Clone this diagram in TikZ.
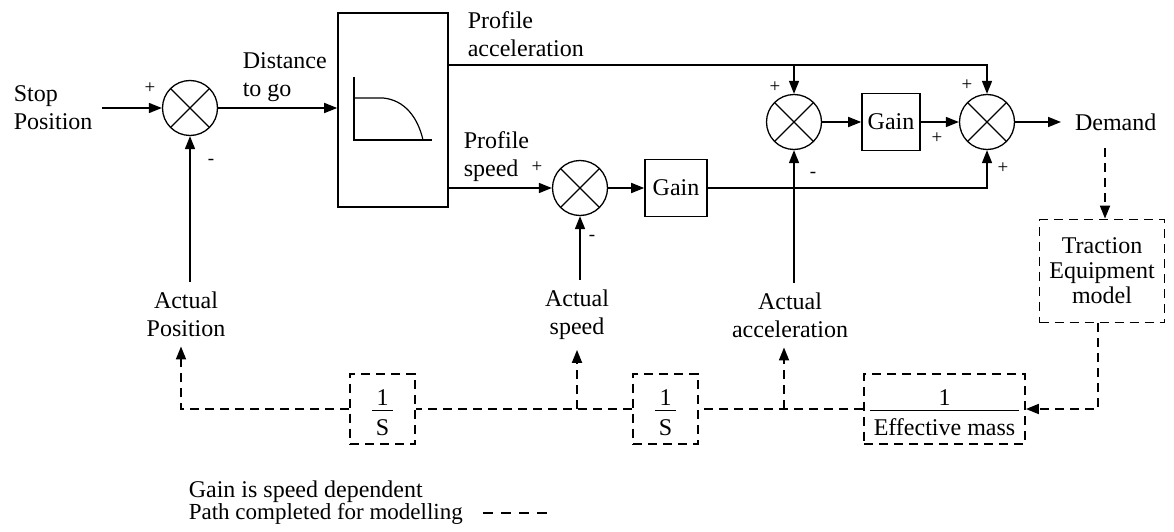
\documentclass[tikz,border=0pt]{standalone}
\usepackage{fontspec}
\setmainfont{Liberation Serif}
\usetikzlibrary{arrows.meta}
\newcommand\labfont{\fontsize{24}{28}\selectfont}
\newcommand\notefont{\fontsize{24}{22}\selectfont}
\newcommand\notefontb{\fontsize{23}{22}\selectfont}
\newcommand\signfont{\fontsize{19}{19}\selectfont}
\newcommand\fracbox[2]{\begin{tabular}{@{\,}c@{\,}}\rule{0pt}{32pt}#1\\[-4pt]\hline\rule{0pt}{25pt}#2\end{tabular}}
\begin{document}
\begin{tikzpicture}[x=1pt,y=-1pt,line width=1.6pt,
  >={Triangle[length=13pt,width=10pt]},
  sumnode/.style={circle,draw,line width=1.3pt,minimum size=55pt,inner sep=0pt,
    path picture={\draw[line width=1.3pt] (path picture bounding box.north east) -- (path picture bounding box.south west)
                   (path picture bounding box.north west) -- (path picture bounding box.south east);}},
  blk/.style={draw,rectangle,inner sep=0pt,line width=1.6pt},
  dline/.style={line width=1.8pt,dash pattern=on 9pt off 6pt},
  dblk/.style={blk,line width=1.8pt,dash pattern=on 9pt off 6pt},
  lab/.style={font=\labfont,inner sep=0pt,align=center},
  albl/.style={lab,outer sep=10pt},
  sgn/.style={font=\signfont,inner sep=0pt}]
\useasboundingbox (0,0) rectangle (1174,532);

% main forward path
\node[sumnode] (s1) at (190,108) {};
\node[blk,minimum width=110pt,minimum height=194pt] (pb) at (393,110) {};
\node[sumnode] (s2) at (580,188) {};
\node[blk,minimum width=62pt,minimum height=57pt,font=\labfont] (g1) at (676,188) {Gain};
\node[sumnode] (s3) at (794,122) {};
\node[blk,minimum width=58pt,minimum height=57pt,font=\labfont] (g2) at (891,122) {Gain};
\node[sumnode] (s4) at (987,122) {};

% profile graph inside block
\draw[line width=1.2pt] (354,77) -- (354,140) -- (432,140);
\draw[line width=1.2pt] (354,98) -- (383,98) .. controls (405,100) and (418,118) .. (423,140);

% labels
\node[lab,align=left,anchor=west] (stp) at (13,108) {Stop\\Position};
\node[lab,align=left,anchor=west] (dtg) at (242,77) {Distance\\to go};
\node[lab,align=left,anchor=west] (pacc) at (467,34) {Profile\\acceleration};
\node[lab,align=left,anchor=west] (pspd) at (463,157) {Profile\\speed};
\node[lab,anchor=west,outer sep=14pt] (dm) at (1061,122) {Demand};
\node[albl] (ap) at (186,314) {Actual\\Position};
\node[albl] (as) at (577,315) {Actual\\speed};
\node[albl] (aa) at (790,315) {Actual\\acceleration};

% signs
\node[sgn] (p1) at (150,88) {+};
\node[sgn] (m1) at (211,162) {-};
\node[sgn] (p2) at (537,167) {+};
\node[sgn] (m2) at (592,238) {-};
\node[sgn] (p3) at (775,87) {+};
\node[sgn] (m3) at (813,175) {-};
\node[sgn] (p4a) at (967,85) {+};
\node[sgn] (p4b) at (937,138) {+};
\node[sgn] (p4c) at (1003,168) {+};

% solid connectors
\coordinate (accy) at (0,65);
\draw[->,shorten <=9pt] (stp.east |- s1.west) -- (s1.west);
\draw[->] (s1.east) -- (pb.west |- s1.east);
\draw[->] (pb.east |- accy) -| (s4.north);
\draw[->] (s3.north |- accy) -- (s3.north);
\draw[->] (pb.east |- s2.west) -- (s2.west);
\draw[->] (s2.east) -- (g1.west);
\draw[->] (g1.east) -| (s4.south);
\draw[->] (s3.east) -- (g2.west);
\draw[->] (g2.east) -- (s4.west);
\draw[->] (s4.east) -- (dm.west);
\draw[->] (s1.south |- ap.north) -- (s1.south);
\draw[->] (s2.south |- as.north) -- (s2.south);
\draw[->] (s3.south |- aa.north) -- (s3.south);

% modelling path (dashed)
\node[dblk,minimum width=125pt,minimum height=103pt,font=\fontsize{24}{25}\selectfont,align=center] (tb) at (1102,271) {Traction\\Equipment\\model};
\node[dblk,minimum width=161pt,minimum height=62pt,font=\labfont] (em) at (944.5,409)
  {\fracbox{1}{Effective mass}};
\node[dblk,minimum width=65pt,minimum height=62pt,font=\labfont] (i2) at (665.5,409)
  {\fracbox{1}{S}};
\node[dblk,minimum width=65pt,minimum height=62pt,font=\labfont] (i1) at (382.5,409)
  {\fracbox{1}{S}};
\coordinate (dmd) at (1105,148);
\draw[dline,->] (dmd) -- (dmd |- tb.north);
\draw[dline,->] ([xshift=-4pt]tb.south) |- (em.east);
\draw[dline] (em.west) -- (i2.east);
\draw[dline] (i2.west) -- (i1.east);
\draw[dline,->] (i1.west) -| ([xshift=-5pt]ap.south);
\draw[dline,->] (as.south |- i1.east) -- (as.south);
\draw[dline,->] ([xshift=-6pt]aa.south |- em.west) -- ([xshift=-6pt]aa.south);

% legend
\node[anchor=base west,font=\notefont,inner sep=0pt] (n1) at (188,497) {Gain is speed dependent};
\node[anchor=base west,font=\notefontb,inner sep=0pt] (n2) at (188,519) {Path completed for modelling};
\coordinate (lg1) at (483,513);
\coordinate (lg2) at (548,513);
\draw[line width=1.8pt,dash pattern=on 10pt off 8pt] (lg1) -- (lg2);
\end{tikzpicture}
\end{document}
